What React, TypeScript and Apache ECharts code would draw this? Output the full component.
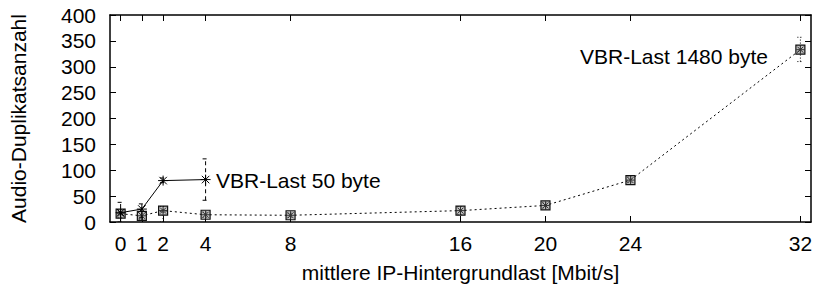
import React, { useEffect, useRef } from "react";
import * as echarts from "echarts";

const xTicks = [0, 1, 2, 4, 8, 16, 20, 24, 32];

// VBR-Last 50 byte
const s50X = [0, 1, 2, 4];
const s50Y = [18, 25, 80, 82];
const s50Low = [0, 8, 76, 42];
const s50High = [38, 35, 85, 122];

// VBR-Last 1480 byte
const s1480X = [0, 1, 2, 4, 8, 16, 20, 24, 32];
const s1480Y = [16, 12, 22, 14, 13, 22, 32, 81, 333];
const s1480Low = [8, 4, 0, 9, 9, 14, 27, 76, 310];
const s1480High = [24, 20, 30, 19, 17, 30, 37, 87, 357];

const label50 = "VBR-Last 50 byte";
const label1480 = "VBR-Last 1480 byte";

const FONT = "'Liberation Sans', Arial, Helvetica, sans-serif";

function makeRender(kind: "star" | "box", errDash: number[]) {
  return (params: any, api: any) => {
    const x = api.value(0);
    const y = api.value(1);
    const lo = api.value(2);
    const hi = api.value(3);
    const c = api.coord([x, y]);
    const pl = api.coord([x, lo]);
    const ph = api.coord([x, hi]);
    const cap = 3;
    const err = { stroke: "#000", lineWidth: 1, lineDash: errDash };
    const children: any[] = [
      { type: "line", shape: { x1: pl[0], y1: pl[1], x2: ph[0], y2: ph[1] }, style: err },
      { type: "line", shape: { x1: pl[0] - cap, y1: pl[1], x2: pl[0] + cap, y2: pl[1] }, style: err },
      { type: "line", shape: { x1: ph[0] - cap, y1: ph[1], x2: ph[0] + cap, y2: ph[1] }, style: err },
    ];
    const r = kind === "star" ? 5 : 4;
    const st = { stroke: kind === "star" ? "#000" : "#222", lineWidth: 1 };
    children.push(
      { type: "line", shape: { x1: c[0] - r, y1: c[1], x2: c[0] + r, y2: c[1] }, style: st },
      { type: "line", shape: { x1: c[0], y1: c[1] - r, x2: c[0], y2: c[1] + r }, style: st },
      { type: "line", shape: { x1: c[0] - r * 0.75, y1: c[1] - r * 0.75, x2: c[0] + r * 0.75, y2: c[1] + r * 0.75 }, style: st },
      { type: "line", shape: { x1: c[0] - r * 0.75, y1: c[1] + r * 0.75, x2: c[0] + r * 0.75, y2: c[1] - r * 0.75 }, style: st }
    );
    if (kind === "box") {
      children.push({
        type: "rect",
        shape: { x: c[0] - 4.5, y: c[1] - 4.5, width: 9, height: 9 },
        style: { stroke: "#111", fill: "rgba(80,80,80,0.35)", lineWidth: 1.2 },
      });
    }
    return { type: "group", children };
  };
}

export default function App() {
  const ref = useRef<HTMLDivElement>(null);
  useEffect(() => {
    if (!ref.current) return;
    const chart = echarts.init(ref.current, undefined, { renderer: "svg" });
    const axisCommon = {
      type: "value" as const,
      axisLine: { show: true, onZero: false, lineStyle: { color: "#000", width: 1.5 } },
      splitLine: { show: false },
    };
    chart.setOption({
      animation: false,
      backgroundColor: "#fff",
      grid: { left: 107, right: 7, top: 15, bottom: 65 },
      xAxis: [
        {
          ...axisCommon,
          min: -0.5,
          max: 32.5,
          position: "bottom",
          name: "mittlere IP-Hintergrundlast [Mbit/s]",
          nameLocation: "middle",
          nameGap: 40,
          nameTextStyle: { fontFamily: FONT, fontSize: 21, color: "#000" },
          axisTick: { show: true, inside: true, length: 6, customValues: xTicks, lineStyle: { color: "#000" } },
          axisLabel: { show: true, customValues: xTicks, fontFamily: FONT, fontSize: 21, color: "#000", margin: 11 },
        },
        {
          ...axisCommon,
          min: -0.5,
          max: 32.5,
          position: "top",
          axisTick: { show: true, inside: true, length: 6, customValues: xTicks, lineStyle: { color: "#000" } },
          axisLabel: { show: false },
        },
      ],
      yAxis: [
        {
          ...axisCommon,
          min: 0,
          max: 400,
          interval: 50,
          position: "left",
          name: "Audio-Duplikatsanzahl",
          nameLocation: "middle",
          nameGap: 81,
          nameRotate: 90,
          nameTextStyle: { fontFamily: FONT, fontSize: 21, color: "#000" },
          axisTick: { show: true, inside: true, length: 6, lineStyle: { color: "#000" } },
          axisLabel: { fontFamily: FONT, fontSize: 21, color: "#000", margin: 14 },
        },
        {
          ...axisCommon,
          min: 0,
          max: 400,
          interval: 50,
          position: "right",
          axisTick: { show: true, inside: true, length: 6, lineStyle: { color: "#000" } },
          axisLabel: { show: false },
        },
      ],
      series: [
        {
          type: "line",
          data: s1480X.map((x, i) => [x, s1480Y[i]]),
          symbol: "none",
          lineStyle: { color: "#000", width: 1, type: [2, 3] },
          z: 2,
        },
        {
          type: "line",
          data: s50X.map((x, i) => [x, s50Y[i]]),
          symbol: "none",
          lineStyle: { color: "#000", width: 1, type: "solid" },
          z: 3,
        },
        {
          type: "custom",
          renderItem: makeRender("box", [1, 2]),
          data: s1480X.map((x, i) => [x, s1480Y[i], s1480Low[i], s1480High[i]]),
          clip: true,
          z: 4,
        },
        {
          type: "custom",
          renderItem: makeRender("star", [4, 3]),
          data: s50X.map((x, i) => [x, s50Y[i], s50Low[i], s50High[i]]),
          clip: true,
          z: 5,
        },
      ],
      graphic: [
        {
          type: "text",
          left: 216,
          top: 170,
          style: { text: label50, fontFamily: FONT, fontSize: 21, fill: "#000" },
        },
        {
          type: "text",
          left: 580,
          top: 46,
          style: { text: label1480, fontFamily: FONT, fontSize: 21, fill: "#000" },
        },
      ],
    });
    return () => chart.dispose();
  }, []);
  return <div ref={ref} style={{ width: 818, height: 288, position: "absolute", left: 0, top: 0 }} />;
}
